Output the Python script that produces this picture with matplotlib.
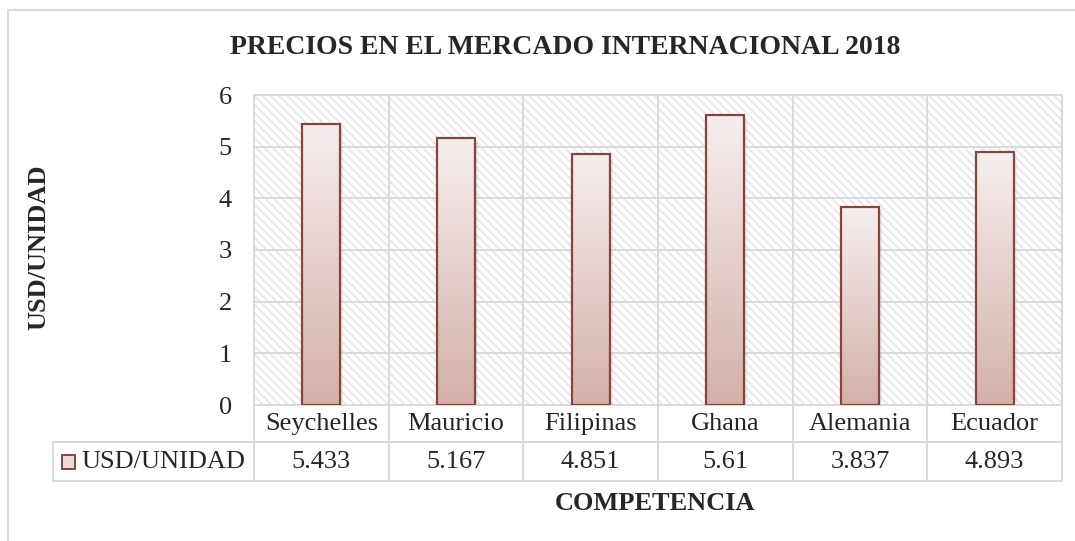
import matplotlib
matplotlib.use('Agg')
import matplotlib.pyplot as plt
import numpy as np
from matplotlib.patches import Rectangle
from matplotlib.colors import LinearSegmentedColormap
from matplotlib.lines import Line2D
import matplotlib.transforms as mtransforms

# ---- data ----
categories = ['Seychelles', 'Mauricio', 'Filipinas', 'Ghana', 'Alemania', 'Ecuador']
values = [5.433, 5.167, 4.851, 5.61, 3.837, 4.893]
value_labels = ['5.433', '5.167', '4.851', '5.61', '3.837', '4.893']
series_name = 'USD/UNIDAD'
title = 'PRECIOS EN EL MERCADO INTERNACIONAL 2018'
y_label = 'USD/UNIDAD'
x_label = 'COMPETENCIA'
y_ticks = [0, 1, 2, 3, 4, 5, 6]

# ---- style ----
W, H = 1075, 541
plt.rcParams['font.family'] = ['Liberation Serif', 'DejaVu Serif']
plt.rcParams['hatch.linewidth'] = 1.3
TXT = '#262626'
GRID = '#d9d9de'
EDGE = '#83453c'

fig = plt.figure(figsize=(W / 100, H / 100), dpi=100)
def fx(px): return px / W
def fy(py): return 1 - py / H

L, R, T, B = 254, 1062, 95, 405
ax = fig.add_axes([fx(L), fy(B), fx(R) - fx(L), fy(T) - fy(B)])
n = len(categories)

# hatched background
bg = Rectangle((0, 0), 1, 1, transform=ax.transAxes, facecolor='white',
               edgecolor='#e7e7ea', hatch='\\\\\\\\', lw=0, zorder=0)
ax.add_patch(bg)

# grid
ax.set_yticks(y_ticks)
ax.yaxis.grid(True, color=GRID, lw=1.4, zorder=1)
ax.set_axisbelow(True)
for x in np.arange(0.5, n - 0.5, 1.0):
    ax.axvline(x, color=GRID, lw=1.4, zorder=1)
for s in ax.spines.values():
    s.set_color(GRID)
    s.set_linewidth(1.4)

# bars with gradient
cmap = LinearSegmentedColormap.from_list('g', ['#f5eeee', '#d5b0aa'])
grad = np.linspace(0, 1, 256).reshape(-1, 1)
bw = 0.28
bars = ax.bar(range(n), values, width=bw, facecolor='none', edgecolor=EDGE,
              lw=1.6, zorder=4)
for i, b in enumerate(bars):
    x0 = b.get_x(); h = b.get_height()
    # soft shadow
    for k, a in [(0.03, 0.10), (0.018, 0.12)]:
        ax.add_patch(Rectangle((x0 + k * 0.8, -0.02), bw, h - k, facecolor='#8a8a8a',
                               alpha=a, lw=0, zorder=2))
    im = ax.imshow(grad, extent=[x0, x0 + bw, 0, h], aspect='auto', cmap=cmap,
                   zorder=3, interpolation='bilinear')
    im.set_clip_path(b)

ax.set_xlim(-0.5, n - 0.5)
ax.set_ylim(0, 6)
ax.set_xticks([])
ax.tick_params(axis='y', length=0, labelsize=19, pad=16, labelcolor=TXT)

# ---- data table below axis ----
tr = mtransforms.blended_transform_factory(ax.transData, ax.transAxes)
unit_px = (R - L) / n
def dx(px): return -0.5 + (px - L) / unit_px
def ay(py): return -(py - B) / (B - T)

y_row1 = ay(442)
y_row2 = ay(481)
xl = dx(53)
lk = dict(color=GRID, lw=1.4, transform=tr, clip_on=False, zorder=5)
ax.plot([xl, n - 0.5], [y_row1, y_row1], **lk)
ax.plot([xl, n - 0.5], [y_row2, y_row2], **lk)
ax.plot([xl, xl], [y_row1, y_row2], **lk)
for x in np.arange(-0.5, n, 1.0):
    ax.plot([x, x], [0, y_row2], **lk)

yc1 = ay(424)
yc2 = ay(462)
for i, (c, v) in enumerate(zip(categories, value_labels)):
    ax.text(i, yc1, c, transform=tr, ha='center', va='center', fontsize=19, color=TXT)
    ax.text(i, yc2, v, transform=tr, ha='center', va='center', fontsize=19, color=TXT)

# legend key
ax.add_patch(Rectangle((dx(62), ay(469)), dx(75) - dx(62), ay(455) - ay(469),
                       transform=tr, facecolor='#ead9d7', edgecolor=EDGE, lw=1.4,
                       clip_on=False, zorder=5))
ax.text(dx(81), yc2, series_name, transform=tr, ha='left', va='center',
        fontsize=19, color=TXT)

# ---- titles ----
fig.text(fx(565), fy(47), title, ha='center', va='center', fontsize=20,
         fontweight='bold', color=TXT)
fig.text(fx(39), fy(247), y_label, ha='center', va='center', fontsize=19,
         fontweight='bold', color=TXT, rotation=90)
fig.text(fx(655), fy(503), x_label, ha='center', va='center', fontsize=19,
         fontweight='bold', color=TXT)

# outer frame
fig.add_artist(Line2D([fx(8), fx(8)], [fy(10), 0], color=GRID, lw=1.5))
fig.add_artist(Line2D([fx(8), 1], [fy(10), fy(10)], color=GRID, lw=1.5))

fig.savefig('out.png', dpi=100)
